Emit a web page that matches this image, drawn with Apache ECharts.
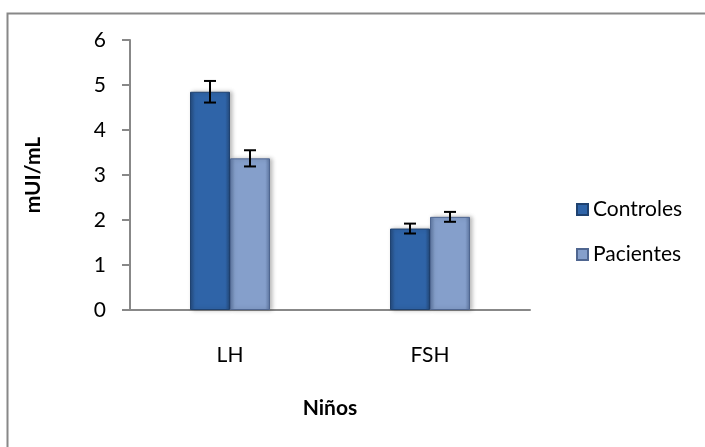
<!DOCTYPE html>
<html><head><meta charset="utf-8">
<script src="https://cdn.jsdelivr.net/npm/echarts@6/dist/echarts.min.js"></script>
<style>html,body{margin:0;padding:0;background:#fff}#c{width:705px;height:447px}</style>
</head><body><div id="c"></div>
<script>
const categories = ['LH', 'FSH'];
const controles = [4.85, 1.81];
const pacientes = [3.37, 2.07];
const controlesErr = [0.24, 0.11];
const pacientesErr = [0.18, 0.11];
const yTicks = [0, 1, 2, 3, 4, 5, 6];

const FONT = 'Lato, "Open Sans", sans-serif';
const chart = echarts.init(document.getElementById('c'));

function grad(edge, mid) {
  return new echarts.graphic.LinearGradient(0, 0, 1, 0, [
    {offset: 0, color: edge}, {offset: 0.12, color: mid}, {offset: 0.5, color: mid},
    {offset: 0.88, color: mid}, {offset: 1, color: edge}
  ]);
}

function errSeries(idx, vals, errs) {
  return {
    type: 'custom',
    name: 'err' + idx,
    z: 10,
    renderItem: function (params, api) {
      const ci = api.value(0);
      const hi = api.coord([ci, api.value(1) + api.value(2)]);
      const lo = api.coord([ci, api.value(1) - api.value(2)]);
      const bw = api.size([1, 0])[0];
      const barW = bw * 0.2;
      const x = hi[0] + (idx === 0 ? -barW / 2 : barW / 2);
      const cap = 6;
      const st = {stroke: '#000', lineWidth: 2};
      return {type: 'group', children: [
        {type: 'line', shape: {x1: x, y1: hi[1], x2: x, y2: lo[1]}, style: st},
        {type: 'line', shape: {x1: x - cap, y1: hi[1], x2: x + cap, y2: hi[1]}, style: st},
        {type: 'line', shape: {x1: x - cap, y1: lo[1], x2: x + cap, y2: lo[1]}, style: st}
      ]};
    },
    data: vals.map((v, i) => [i, v, errs[i]]),
    tooltip: {show: false}
  };
}

chart.setOption({
  animation: false,
  backgroundColor: '#fff',
  textStyle: {fontFamily: FONT},
  graphic: [{
    type: 'rect', left: 5, top: 11, z: -1,
    shape: {width: 800, height: 500},
    style: {fill: 'none', stroke: '#888', lineWidth: 2}
  }],
  grid: {left: 130, right: 175, top: 40, bottom: 137},
  legend: {
    orient: 'vertical', left: 571, top: 194, itemGap: 24,
    itemWidth: 11, itemHeight: 11, icon: 'rect',
    textStyle: {fontSize: 21, color: '#000', fontFamily: FONT, padding: [0, 0, 0, 0]},
    data: ['Controles', 'Pacientes']
  },
  xAxis: {
    type: 'category', data: categories,
    name: 'Niños', nameLocation: 'middle', nameGap: 88,
    nameTextStyle: {fontSize: 21, fontWeight: 'bold', color: '#000', fontFamily: FONT},
    axisLine: {lineStyle: {color: '#888', width: 2}},
    axisTick: {show: false},
    axisLabel: {fontSize: 21, color: '#000', margin: 35, fontFamily: FONT}
  },
  yAxis: {
    type: 'value', min: yTicks[0], max: yTicks[yTicks.length - 1], interval: 1,
    name: 'mUI/mL', nameLocation: 'middle', nameGap: 86,
    nameTextStyle: {fontSize: 21, fontWeight: 'bold', color: '#000', fontFamily: FONT},
    axisLine: {show: true, lineStyle: {color: '#888', width: 2}},
    axisTick: {show: true, length: 8, lineStyle: {color: '#888', width: 2}},
    splitLine: {show: false},
    axisLabel: {fontSize: 21, color: '#000', margin: 24, fontFamily: FONT}
  },
  series: [
    {
      name: 'Controles', type: 'bar', data: controles,
      barWidth: '20%', barGap: '0%',
      itemStyle: {color: grad('#24497A', '#2F64A8'), borderColor: '#1F4270', borderWidth: 1,
        shadowColor: 'rgba(0,0,0,0.25)', shadowBlur: 4, shadowOffsetX: 2}
    },
    {
      name: 'Pacientes', type: 'bar', data: pacientes,
      barWidth: '20%', barGap: '0%',
      itemStyle: {color: grad('#5D76A0', '#859FCB'), borderColor: '#4F6690', borderWidth: 1,
        shadowColor: 'rgba(0,0,0,0.25)', shadowBlur: 4, shadowOffsetX: 2}
    },
    errSeries(0, controles, controlesErr),
    errSeries(1, pacientes, pacientesErr)
  ]
});
</script></body></html>
